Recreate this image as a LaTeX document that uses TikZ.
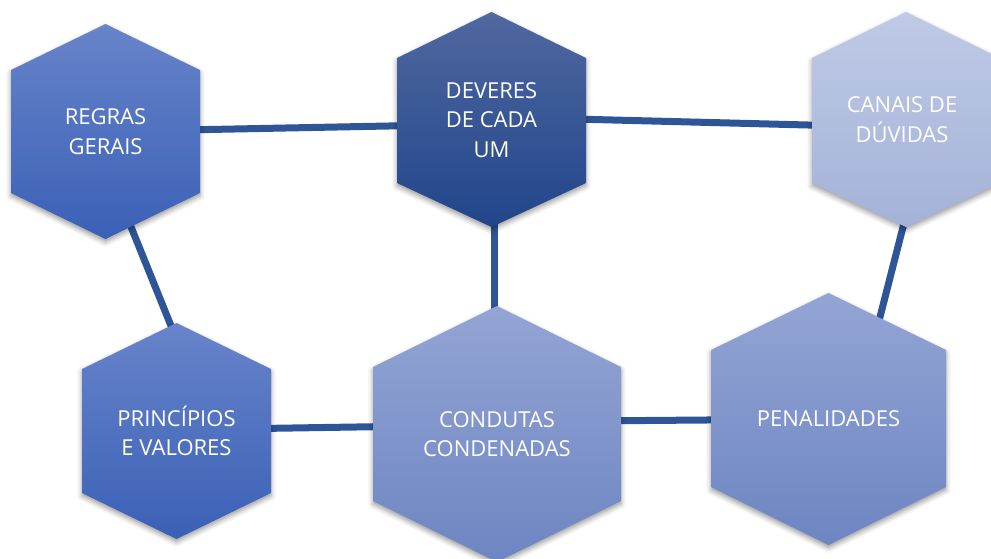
\documentclass[tikz,border=0pt]{standalone}
\usepackage{fontspec}
\setmainfont{Open Sans}
\usetikzlibrary{calc,shadows.blur}

\definecolor{linkblue}{HTML}{2E5597}
\pgfdeclarelayer{links}
\pgfdeclarelayer{shapes}
\pgfsetlayers{links,shapes,main}

\tikzset{
  link/.style={draw=linkblue,line width=7pt},
  hexshadow/.style={blur shadow={shadow xshift=0pt,shadow yshift=-3pt,shadow blur radius=5pt,shadow opacity=40}},
  hexmid/.style={top color={rgb,255:red,104;green,132;blue,202},bottom color={rgb,255:red,58;green,96;blue,182},hexshadow},
  hexdark/.style={top color={rgb,255:red,80;green,104;blue,160},bottom color={rgb,255:red,33;green,69;blue,139},hexshadow},
  hexpale/.style={top color={rgb,255:red,192;green,202;blue,230},bottom color={rgb,255:red,164;green,178;blue,216},hexshadow},
  hexsoft/.style={top color={rgb,255:red,147;green,165;blue,212},bottom color={rgb,255:red,109;green,133;blue,194},hexshadow},
  hexlabel/.style={text=white,align=center,inner sep=0pt,font=\fontsize{22}{29.5}\selectfont}
}
% #1 style, #2 left, #3 right, #4 top, #5 upper corners, #6 lower corners, #7 bottom
\newcommand{\hexagon}[7]{%
  \path[#1] ({(#2+#3)/2},#4) -- (#3,#5) -- (#3,#6) -- ({(#2+#3)/2},#7) -- (#2,#6) -- (#2,#5) -- cycle;}

\begin{document}
\begin{tikzpicture}[x=1pt,y=-1pt]
\useasboundingbox (0,0) rectangle (991,558);
\node[hexlabel] (regras) at (105.5,131.5) {REGRAS\\GERAIS};
\node[hexlabel] (deveres) at (491.5,120) {DEVERES\\DE CADA\\UM};
\node[hexlabel] (canais) at (902,119.5) {CANAIS DE\\DÚVIDAS};
\node[hexlabel] (principios) at (176.5,431) {PRINCÍPIOS\\E VALORES};
\node[hexlabel] (condutas) at (497,434) {CONDUTAS\\CONDENADAS};
\node[hexlabel] (penalidades) at (828.5,419) {PENALIDADES};

\begin{pgfonlayer}{shapes}
\hexagon{hexmid}{11}{200}{24}{70}{193}{239}
\hexagon{hexdark}{397}{586}{12}{58}{183}{227}
\hexagon{hexpale}{812}{1000}{12}{58}{183}{227}
\hexagon{hexmid}{82}{271}{323}{369}{493}{539}
\hexagon{hexsoft}{373}{621}{306}{367}{501}{562}
\hexagon{hexsoft}{711}{946}{293}{350}{487}{545}
\end{pgfonlayer}

\begin{pgfonlayer}{links}
\draw[link] (regras.center) -- ($(deveres.center)+(0,4)$);
\draw[link] ($(deveres.center)+(0,-3.1)$) -- ($(canais.center)+(4,8)$);
\draw[link] ($(regras.center)+(-13,0)$) -- ($(principios.center)+(37,0)$);
\draw[link] ($(deveres.center)+(3,0)$) -- ($(condutas.center)+(-2.5,0)$);
\draw[link] ($(canais.center)+(28.5,0)$) -- ($(penalidades.center)+(25.4,0)$);
\draw[link] ($(principios.center)+(0,-1.2)$) -- ($(condutas.center)+(0,-9.2)$);
\draw[link] ($(condutas.center)+(0,-12.3)$) -- (penalidades.center);
\end{pgfonlayer}
\end{tikzpicture}
\end{document}
